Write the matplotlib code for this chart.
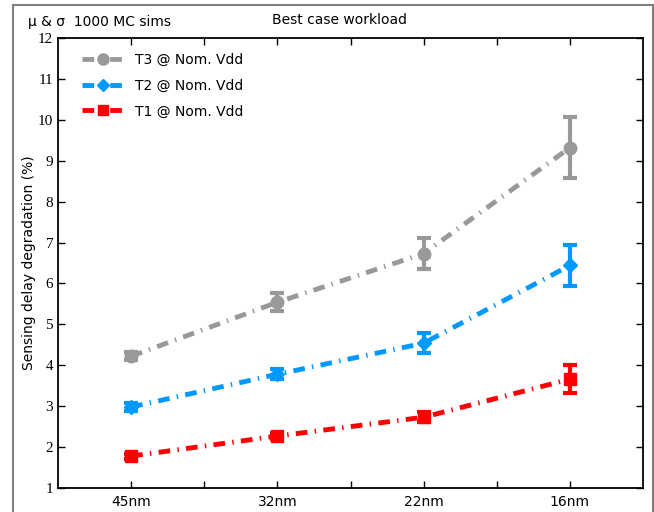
import matplotlib.pyplot as plt
from matplotlib.patches import Rectangle
from matplotlib.lines import Line2D

nodes = ["45nm", "32nm", "22nm", "16nm"]
t3_mean = [4.22, 5.54, 6.73, 9.32]
t3_std = [0.10, 0.22, 0.37, 0.74]
t2_mean = [2.98, 3.78, 4.54, 6.44]
t2_std = [0.10, 0.12, 0.24, 0.50]
t1_mean = [1.78, 2.27, 2.73, 3.66]
t1_std = [0.06, 0.08, 0.12, 0.34]

x = list(range(1, len(nodes) + 1))

fig = plt.figure(figsize=(6.54, 5.12), dpi=100)
ax = fig.add_axes([58 / 654, 1 - 488 / 512, 585 / 654, 450 / 512])

dash = (2.4, 1.5, 0.3, 1.5)
series = [
    ("T3 @ Nom. Vdd", t3_mean, t3_std, "#999999", "o", 9),
    ("T2 @ Nom. Vdd", t2_mean, t2_std, "#0099ff", "D", 7),
    ("T1 @ Nom. Vdd", t1_mean, t1_std, "#ff0000", "s", 8),
]
handles = []
for label, mean, std, color, marker, ms in series:
    ax.errorbar(x, mean, yerr=std, color=color, marker=marker, markersize=ms,
                linewidth=3.5, dashes=dash, elinewidth=3,
                capsize=5, capthick=3)
    handles.append(Line2D([], [], color=color, marker=marker, markersize=ms - 1,
                          linewidth=3.5, dashes=dash, label=label))

ax.set_xlim(0.5, 4.5)
ax.set_ylim(1, 12)
ax.set_xticks(x)
ax.set_xticklabels(nodes, fontsize=10, family="DejaVu Sans")
ax.set_xticks([1.5, 2.5, 3.5], minor=True)
ax.set_yticks(range(1, 13))
ax.set_yticklabels([str(v) for v in range(1, 13)], fontsize=11, family="Liberation Serif")
ax.tick_params(which="both", direction="in", top=True, right=True, length=5, width=1)
ax.tick_params(axis="x", which="major", pad=5)
for s in ax.spines.values():
    s.set_linewidth(1.3)
ax.set_ylabel("Sensing delay degradation (%)", fontsize=10, labelpad=1)

ax.legend(handles=handles, loc="upper left", frameon=False, fontsize=10,
          handlelength=3.0, bbox_to_anchor=(0.02, 0.995), labelspacing=0.85)

fig.text(28 / 654, 1 - 22 / 512, "\u03bc & \u03c3  1000 MC sims", fontsize=10, va="center")
fig.text(340 / 654, 1 - 20 / 512, "Best case workload", fontsize=10, ha="center", va="center")

fig.add_artist(Rectangle((13 / 654, -0.01), (653 - 13) / 654, (512 - 5) / 512 + 0.01,
                         transform=fig.transFigure, fill=False, edgecolor="#808080",
                         linewidth=1.5))

fig.savefig("out.png", dpi=100)
